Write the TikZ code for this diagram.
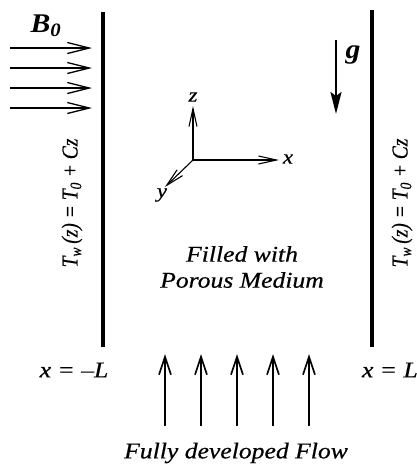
\documentclass[tikz,border=0pt]{standalone}
\usepackage{fontspec}
\usepackage{graphicx}
\setmainfont{Liberation Serif}
\newfontfamily\heavyserif{Liberation Serif}[FakeBold=0.5]
\usetikzlibrary{arrows.meta}
\newcommand{\hstr}[1]{\scalebox{1.14}[1]{#1}}
\newcommand{\vstr}[1]{\scalebox{1}[1.17]{#1}}
\tikzset{
  wall/.style={line width=3.2pt},
  barb/.style={line width=1.3pt,-{Straight Barb[length=22pt,width=11pt,line width=1.3pt]}},
  flowarr/.style={line width=1.7pt,-{Straight Barb[length=18pt,width=12pt,line width=1.7pt]}},
  axisarr/.style={line width=1.1pt,-{Straight Barb[length=18pt,width=8pt,line width=1.1pt]}},
  garr/.style={line width=2.6pt,-{Stealth[length=22pt,width=11pt,inset=4pt]}},
  lbl/.style={inner sep=0pt,font=\heavyserif\fontsize{22.5}{26}\selectfont\itshape},
  axlbl/.style={inner sep=0pt,font=\heavyserif\fontsize{20}{22}\selectfont\itshape},
  vlbl/.style={inner sep=0pt,rotate=90,font=\heavyserif\fontsize{19.5}{22}\selectfont\itshape},
  bigb/.style={inner sep=0pt,font=\fontsize{27}{29}\selectfont\bfseries\itshape},
}
\begin{document}
\begin{tikzpicture}[x=1pt,y=-1pt]
\useasboundingbox (0,0) rectangle (417,467);
% walls
\coordinate (lwt) at (103,12);
\coordinate (lwb) at (103,347);
\coordinate (rwt) at (372,10);
\coordinate (rwb) at (372,347);
\draw[wall] (lwt) -- (lwb);
\draw[wall] (rwt) -- (rwb);
% B0 field arrows
\node[bigb] (b0) at (46,26) {\scalebox{1.1}[1]{B\textsubscript{0}}};
\foreach \i/\y in {1/48,2/68,3/88,4/108}{
  \coordinate (bs\i) at (10,\y);
  \coordinate (be\i) at (92,\y);
  \draw[barb] (bs\i) -- (be\i);
}
% gravity
\coordinate (gs) at (336,40);
\coordinate (ge) at (336,114);
\draw[garr] (gs) -- (ge);
\node[bigb] (g) at (353,55) {\scalebox{1.1}[1]{g}};
% axes
\coordinate (o) at (193,160);
\coordinate (zt) at (193,106);
\coordinate (xt) at (279,160);
\coordinate (yt) at (165,187);
\draw[axisarr] (o) -- (zt);
\draw[axisarr] (o) -- (xt);
\draw[axisarr] (o) -- (yt);
\node[axlbl] (zl) at (193,97) {\hstr{z}};
\node[axlbl] (xl) at (288,159) {\hstr{x}};
\node[axlbl] (yl) at (162,195) {\hstr{y}};
% medium text
\node[lbl,align=center,font=\heavyserif\fontsize{22.5}{26}\selectfont\itshape] (med) at (242,267) {\hstr{Filled with}\\\hstr{Porous Medium}};
% wall temperature labels
\node[vlbl] (tl) at (72,203) {\vstr{T\textsubscript{\itshape w}\,(z) = T\textsubscript{0} + Cz}};
\node[vlbl] (tr) at (402,203) {\vstr{T\textsubscript{\itshape w}\,(z) = T\textsubscript{0} + Cz}};
% wall positions
\node[lbl] (xl1) at (74,370) {\hstr{x = \textendash L}};
\node[lbl,anchor=east] (xl2) at (418,370) {\hstr{x = L}};
% flow arrows
\foreach \i/\x in {1/165,2/201,3/237,4/273,5/309}{
  \coordinate (fs\i) at (\x,426);
  \coordinate (fe\i) at (\x,354);
  \draw[flowarr] (fs\i) -- (fe\i);
}
\node[lbl] (flow) at (236,453) {\hstr{Fully developed Flow}};
\end{tikzpicture}
\end{document}
